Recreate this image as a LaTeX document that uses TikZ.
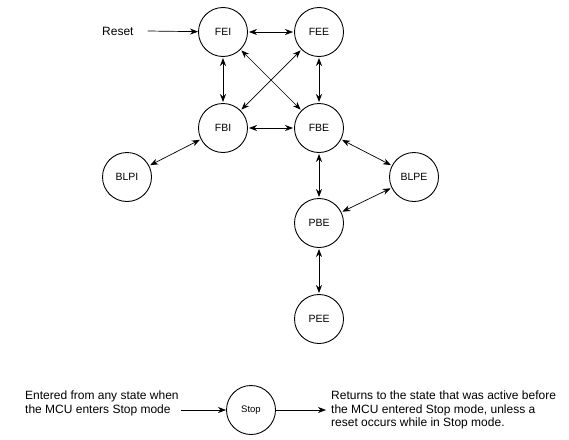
\documentclass[tikz,border=0pt]{standalone}
\usepackage{fontspec}
\setmainfont{Liberation Sans}
\usetikzlibrary{arrows.meta}

\tikzset{
    state/.style={draw, circle, line width=0.9pt, minimum size=49pt, inner sep=0pt, font=\fontsize{10.5}{12}\selectfont},
    trans/.style={{Stealth[length=8pt,width=6pt,inset=2.5pt]}-{Stealth[length=8pt,width=6pt,inset=2.5pt]}, line width=0.7pt, shorten <=1pt, shorten >=1pt},
    strong/.style={trans, line width=0.9pt},
    oneway/.style={-{Stealth[length=8pt,width=6pt,inset=2.5pt]}, line width=0.7pt},
    note/.style={align=left, inner sep=0pt, font=\fontsize{12}{13.5}\selectfont}
}

\begin{document}
\begin{tikzpicture}[x=1pt,y=-1pt]
    \useasboundingbox (0,0) rectangle (569,439);

    % states
    \node[state] (fei) at (223,32) {FEI};
    \node[state] (fee) at (319,32) {FEE};
    \node[state] (fbi) at (223,128) {FBI};
    \node[state] (fbe) at (319,128) {FBE};
    \node[state] (blpi) at (127,177) {BLPI};
    \node[state] (blpe) at (414,177) {BLPE};
    \node[state] (pbe) at (319,223) {PBE};
    \node[state] (pee) at (319,319) {PEE};
    \node[state, font=\fontsize{9.5}{11}\selectfont] (stop) at (251,410) {Stop};

    % reset
    \node[inner sep=0pt, font=\fontsize{12}{14}\selectfont, anchor=west] (reset) at (102,31) {Reset};
    \draw[oneway] ([xshift=14pt]reset.east) -- (fei);

    % transitions
    \draw[trans] (fei) -- (fee);
    \draw[strong] (fei) -- (fbi);
    \draw[strong] (fee) -- (fbe);
    \draw[trans] (fei) -- (fbe);
    \draw[trans] (fee) -- (fbi);
    \draw[strong] (fbi) -- (fbe);
    \draw[trans] (fbi) -- (blpi);
    \draw[trans] (fbe) -- (blpe);
    \draw[strong] (fbe) -- (pbe);
    \draw[trans] (blpe) -- (pbe);
    \draw[strong] (pbe) -- (pee);

    % stop mode
    \node[note, anchor=west] (entered) at (25,403.5) {Entered from any state when\\the MCU enters Stop mode};
    \node[note, anchor=west] (returns) at (331,410) {Returns to the state that was active before\\the MCU entered Stop mode, unless a\\reset occurs while in Stop mode.};
    \draw[oneway, shorten <=2pt] (entered.east |- stop.west) -- (stop);
    \draw[oneway, shorten >=5pt] (stop) -- (returns.west |- stop.east);

\end{tikzpicture}
\end{document}
